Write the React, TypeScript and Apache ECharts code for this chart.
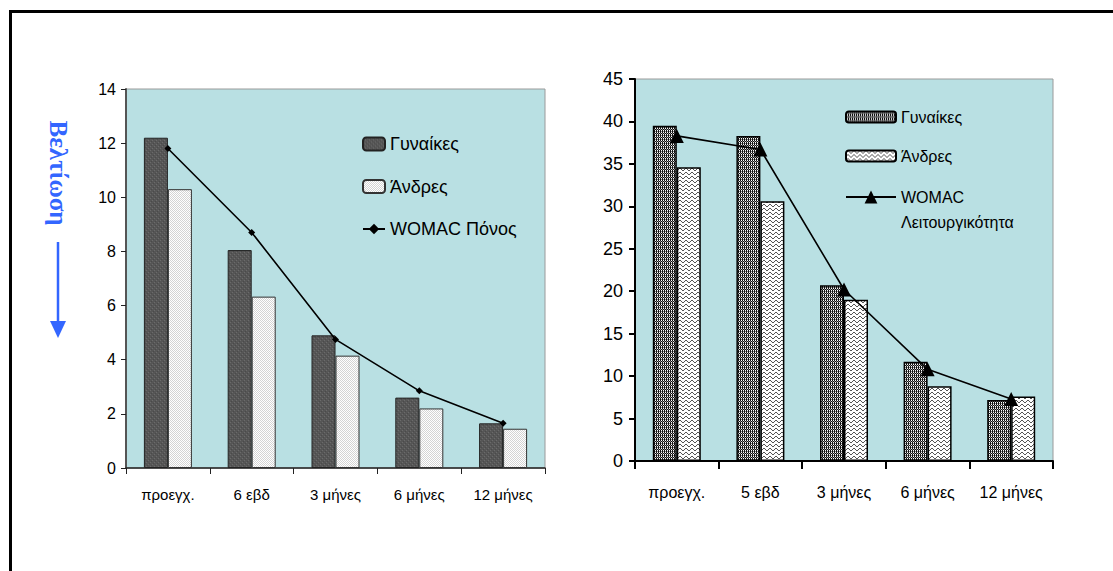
import React, { useEffect, useRef } from "react";
import * as echarts from "echarts";

// Left chart: WOMAC Pain
const leftCategories = ["προεγχ.", "6 εβδ", "3 μήνες", "6 μήνες", "12 μήνες"];
const leftWomen = [12.2, 8.05, 4.9, 2.6, 1.65];
const leftMen = [10.3, 6.33, 4.15, 2.2, 1.45];
const leftPain = [11.8, 8.7, 4.75, 2.85, 1.65];

// Right chart: WOMAC Function
const rightCategories = ["προεγχ.", "5 εβδ", "3 μήνες", "6 μήνες", "12 μήνες"];
const rightWomen = [39.5, 38.3, 20.7, 11.7, 7.2];
const rightMen = [34.6, 30.6, 19.0, 8.8, 7.6];
const rightFunction = [38.3, 36.7, 20.2, 10.8, 7.3];

const seriesNames = {
  women: "Γυναίκες",
  men: "Άνδρες",
  pain: "WOMAC Πόνος",
  func: "WOMAC Λειτουργικότητα",
};

const NARROW = "'Liberation Sans Narrow', 'Arial Narrow', 'Liberation Sans', Arial, sans-serif";
const ARIAL = "'Liberation Sans', Arial, sans-serif";

function makePattern(w: number, h: number, base: string, pixels: [number, number, string][]) {
  const c = document.createElement("canvas");
  c.width = w;
  c.height = h;
  const ctx = c.getContext("2d")!;
  ctx.fillStyle = base;
  ctx.fillRect(0, 0, w, h);
  for (const [x, y, col] of pixels) {
    ctx.fillStyle = col;
    ctx.fillRect(x, y, 1, 1);
  }
  return { image: c, repeat: "repeat" } as any;
}

export default function App() {
  const ref = useRef<HTMLDivElement>(null);

  useEffect(() => {
    if (!ref.current) return;
    const chart = echarts.init(ref.current, undefined, { renderer: "svg" });

    const leftWomenPat = makePattern(4, 4, "#565656", [
      [0, 0, "#6b6b6b"], [2, 2, "#6b6b6b"], [1, 3, "#4a4a4a"], [3, 1, "#4a4a4a"],
    ]);
    const leftMenPat = makePattern(2, 2, "#ffffff", [
      [0, 0, "#d4d4d4"], [1, 1, "#d4d4d4"],
    ]);
    const K = "#111111", W = "#ffffff", G = "#8a8a8a";
    const rightWomenPat = makePattern(4, 4, W, [
      [0, 0, K], [2, 0, K],
      [0, 1, G], [1, 1, K], [2, 1, G], [3, 1, K],
      [0, 2, K], [2, 2, K],
      [0, 3, K], [1, 3, G], [2, 3, K], [3, 3, G],
    ]);
    const rightMenPat = makePattern(6, 4, W, [
      [0, 1, "#555"], [1, 0, "#555"], [2, 0, "#555"], [3, 1, "#555"], [4, 2, "#555"], [5, 2, "#555"],
    ]);

    chart.setOption({
      animation: false,
      backgroundColor: "#ffffff",
      grid: [
        {
          left: 126, top: 89, width: 419, height: 379,
          show: true, backgroundColor: "#B9E0E3", borderColor: "#9a9a9a", borderWidth: 1,
        },
        {
          left: 635, top: 79, width: 418, height: 382,
          show: true, backgroundColor: "#B9E0E3", borderColor: "#9a9a9a", borderWidth: 1,
        },
      ],
      xAxis: [
        {
          type: "category", gridIndex: 0, data: leftCategories,
          axisLine: { lineStyle: { color: "#222", width: 1.5 } },
          axisTick: { show: true, length: 6, lineStyle: { color: "#222" } },
          axisLabel: { color: "#000", fontFamily: NARROW, fontSize: 15, margin: 19 },
        },
        {
          type: "category", gridIndex: 1, data: rightCategories,
          axisLine: { lineStyle: { color: "#000", width: 2 } },
          axisTick: { show: true, length: 8, lineStyle: { color: "#000", width: 2 } },
          axisLabel: { color: "#000", fontFamily: ARIAL, fontSize: 16, margin: 23 },
        },
      ],
      yAxis: [
        {
          type: "value", gridIndex: 0, min: 0, max: 14, interval: 2,
          axisLine: { show: true, lineStyle: { color: "#555", width: 2 } },
          axisTick: { show: true, length: 5, lineStyle: { color: "#222" } },
          splitLine: { show: false },
          axisLabel: { color: "#000", fontFamily: NARROW, fontSize: 16, margin: 10 },
        },
        {
          type: "value", gridIndex: 1, min: 0, max: 45, interval: 5,
          axisLine: { show: true, lineStyle: { color: "#000", width: 2 } },
          axisTick: { show: true, length: 6, lineStyle: { color: "#000", width: 2 } },
          splitLine: { show: false },
          axisLabel: { color: "#000", fontFamily: ARIAL, fontSize: 18, margin: 12 },
        },
      ],
      legend: [
        {
          left: 362, top: 135, orient: "vertical", padding: 0,
          itemWidth: 22, itemHeight: 13, itemGap: 24.5,
          data: [seriesNames.women, seriesNames.men, seriesNames.pain],
          textStyle: { color: "#000", fontFamily: NARROW, fontSize: 18 },
        },
        {
          left: 845, top: 109, orient: "vertical", padding: 0,
          itemWidth: 50, itemHeight: 11, itemGap: 23,
          data: [seriesNames.women + " ", seriesNames.men + " "],
          textStyle: { color: "#000", fontFamily: ARIAL, fontSize: 16 },
        },
        {
          left: 845, top: 159.5, orient: "vertical", padding: 0,
          itemWidth: 50, itemHeight: 16,
          data: [seriesNames.func],
          formatter: () => " \nWOMAC\nΛειτουργικότητα",
          textStyle: { color: "#000", fontFamily: ARIAL, fontSize: 16, lineHeight: 25 },
        },
      ],
      series: [
        {
          name: seriesNames.women, type: "bar", xAxisIndex: 0, yAxisIndex: 0,
          data: leftWomen, barWidth: 24, barGap: "0%",
          itemStyle: { color: leftWomenPat, borderColor: "#222", borderWidth: 1 },
        },
        {
          name: seriesNames.men, type: "bar", xAxisIndex: 0, yAxisIndex: 0,
          data: leftMen, barWidth: 24, barGap: "0%",
          itemStyle: { color: leftMenPat, borderColor: "#333", borderWidth: 1 },
        },
        {
          name: seriesNames.pain, type: "line", xAxisIndex: 0, yAxisIndex: 0,
          data: leftPain, symbol: "diamond", symbolSize: 7, z: 5,
          itemStyle: { color: "#000" }, lineStyle: { color: "#000", width: 1.6 },
        },
        {
          name: seriesNames.women + " ", type: "bar", xAxisIndex: 1, yAxisIndex: 1,
          data: rightWomen, barWidth: 24, barGap: "0%",
          itemStyle: { color: rightWomenPat, borderColor: "#000", borderWidth: 1.5 },
        },
        {
          name: seriesNames.men + " ", type: "bar", xAxisIndex: 1, yAxisIndex: 1,
          data: rightMen, barWidth: 24, barGap: "0%",
          itemStyle: { color: rightMenPat, borderColor: "#000", borderWidth: 1.5 },
        },
        {
          name: seriesNames.func, type: "line", xAxisIndex: 1, yAxisIndex: 1,
          data: rightFunction, symbol: "triangle", symbolSize: 14, z: 5,
          itemStyle: { color: "#000" }, lineStyle: { color: "#000", width: 1.6 },
        },
      ],
      graphic: [
        {
          type: "rect", silent: true,
          shape: { x: 10.5, y: 11.5, width: 1300, height: 800 },
          style: { fill: "none", stroke: "#000", lineWidth: 3 },
        },
        {
          type: "text", x: 58, y: 173, rotation: -Math.PI / 2,
          style: {
            text: "Βελτίωση", fill: "#3366FF",
            font: "bold 25px 'Liberation Serif', 'Times New Roman', serif",
            align: "center", verticalAlign: "middle",
          },
        },
        {
          type: "line",
          shape: { x1: 58, y1: 242, x2: 58, y2: 324 },
          style: { stroke: "#3366FF", lineWidth: 2.5 },
        },
        {
          type: "polygon",
          shape: { points: [[50, 321], [66, 321], [58, 338]] },
          style: { fill: "#3366FF" },
        },
      ],
    });

    return () => chart.dispose();
  }, []);

  return (
    <div
      ref={ref}
      style={{ position: "absolute", left: 0, top: 0, width: 1113, height: 571, overflow: "hidden" }}
    />
  );
}
